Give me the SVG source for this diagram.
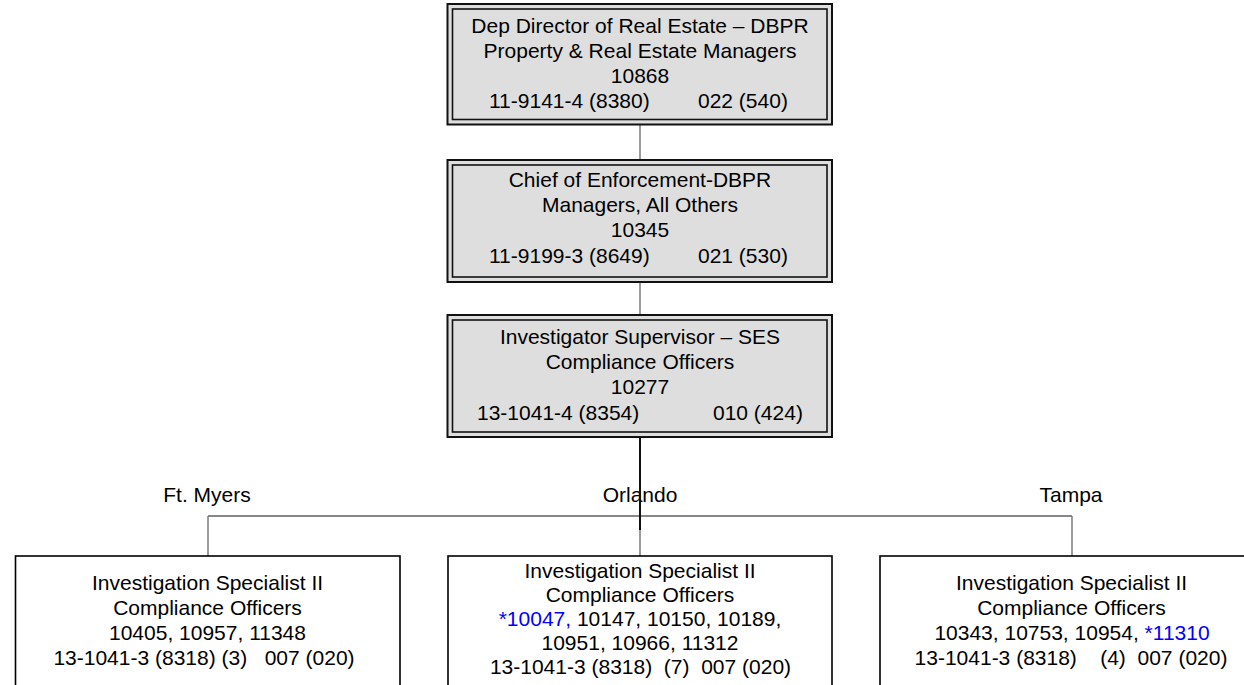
<svg xmlns="http://www.w3.org/2000/svg" width="1244" height="685" viewBox="0 0 1244 685">
  <style>
    text { font-family: "Liberation Sans", Arial, sans-serif; font-size: 21px; fill: #000; text-anchor: middle; }
    .blue { fill: #0000ff; }
    .outer { fill: #dedede; stroke: #111; stroke-width: 2; }
    .inner { fill: #dedede; stroke: #111; stroke-width: 1.6; }
    .plain { fill: #fff; stroke: #000; stroke-width: 1.6; }
    .conn { fill: none; stroke: #7a7a7a; stroke-width: 1.5; }
    .bus { fill: none; stroke: #111; stroke-width: 1.2; }
    .trunk { fill: none; stroke: #111; stroke-width: 2; }
  </style>
  <rect width="1244" height="685" fill="#fff"/>

  <!-- connectors -->
  <g id="connectors">
    <line class="conn" x1="640" y1="125" x2="640" y2="160"/>
    <line class="conn" x1="640" y1="282" x2="640" y2="315"/>
    <line class="bus" x1="208" y1="516" x2="1072" y2="516"/>
    <line class="conn" x1="208" y1="516" x2="208" y2="556"/>
    <line class="conn" x1="640" y1="516" x2="640" y2="556"/>
    <line class="conn" x1="1072" y1="516" x2="1072" y2="556"/>
  </g>

  <!-- Dep Director -->
  <g id="dep-director">
    <rect class="outer" x="447.5" y="4" width="384.5" height="120.5"/>
    <rect class="inner" x="452.5" y="9" width="374.5" height="110.5"/>
    <text x="640" y="33">Dep Director of Real Estate – DBPR</text>
    <text x="640" y="58">Property &amp; Real Estate Managers</text>
    <text x="640" y="83">10868</text>
    <text x="489" y="108" style="text-anchor:start">11-9141-4 (8380)</text>
    <text x="698" y="108" style="text-anchor:start">022 (540)</text>
  </g>

  <!-- Chief of Enforcement -->
  <g id="chief-enforcement">
    <rect class="outer" x="447.5" y="160" width="384.5" height="122"/>
    <rect class="inner" x="452.5" y="165" width="374.5" height="112"/>
    <text x="640" y="187">Chief of Enforcement-DBPR</text>
    <text x="640" y="212">Managers, All Others</text>
    <text x="640" y="237">10345</text>
    <text x="489" y="263" style="text-anchor:start">11-9199-3 (8649)</text>
    <text x="698" y="263" style="text-anchor:start">021 (530)</text>
  </g>

  <!-- Investigator Supervisor -->
  <g id="investigator-supervisor">
    <rect class="outer" x="447.5" y="315" width="384.5" height="122"/>
    <rect class="inner" x="452.5" y="320" width="374.5" height="112"/>
    <text x="640" y="344">Investigator Supervisor – SES</text>
    <text x="640" y="369">Compliance Officers</text>
    <text x="640" y="394">10277</text>
    <text x="477" y="420" style="text-anchor:start">13-1041-4 (8354)</text>
    <text x="713" y="420" style="text-anchor:start">010 (424)</text>
  </g>

  <!-- office labels -->
  <g id="labels">
    <text x="207" y="502">Ft. Myers</text>
    <text x="640" y="502">Orlando</text>
    <text x="1071" y="502">Tampa</text>
  </g>

  <!-- trunk line drawn over the Orlando label -->
  <g id="trunk">
    <line class="trunk" x1="640" y1="437" x2="640" y2="530"/>
  </g>

  <!-- Ft. Myers -->
  <g id="ft-myers">
    <rect class="plain" x="15.5" y="556" width="384.5" height="140"/>
    <text x="207.5" y="590">Investigation Specialist II</text>
    <text x="207.5" y="615">Compliance Officers</text>
    <text x="207.5" y="640">10405, 10957, 11348</text>
    <text x="204" y="665" xml:space="preserve">13-1041-3 (8318) (3)   007 (020)</text>
  </g>

  <!-- Orlando -->
  <g id="orlando">
    <rect class="plain" x="448" y="556" width="384" height="140"/>
    <text x="640" y="578">Investigation Specialist II</text>
    <text x="640" y="602">Compliance Officers</text>
    <text x="640" y="626"><tspan class="blue">*10047,</tspan> 10147, 10150, 10189,</text>
    <text x="640" y="650">10951, 10966, 11312</text>
    <text x="640.5" y="674" xml:space="preserve">13-1041-3 (8318)  (7)  007 (020)</text>
  </g>

  <!-- Tampa -->
  <g id="tampa">
    <rect class="plain" x="880" y="556" width="380" height="140"/>
    <text x="1071.5" y="590">Investigation Specialist II</text>
    <text x="1071.5" y="615">Compliance Officers</text>
    <text x="1072" y="640">10343, 10753, 10954, <tspan class="blue">*11310</tspan></text>
    <text x="1071" y="665" xml:space="preserve">13-1041-3 (8318)    (4)  007 (020)</text>
  </g>
</svg>
